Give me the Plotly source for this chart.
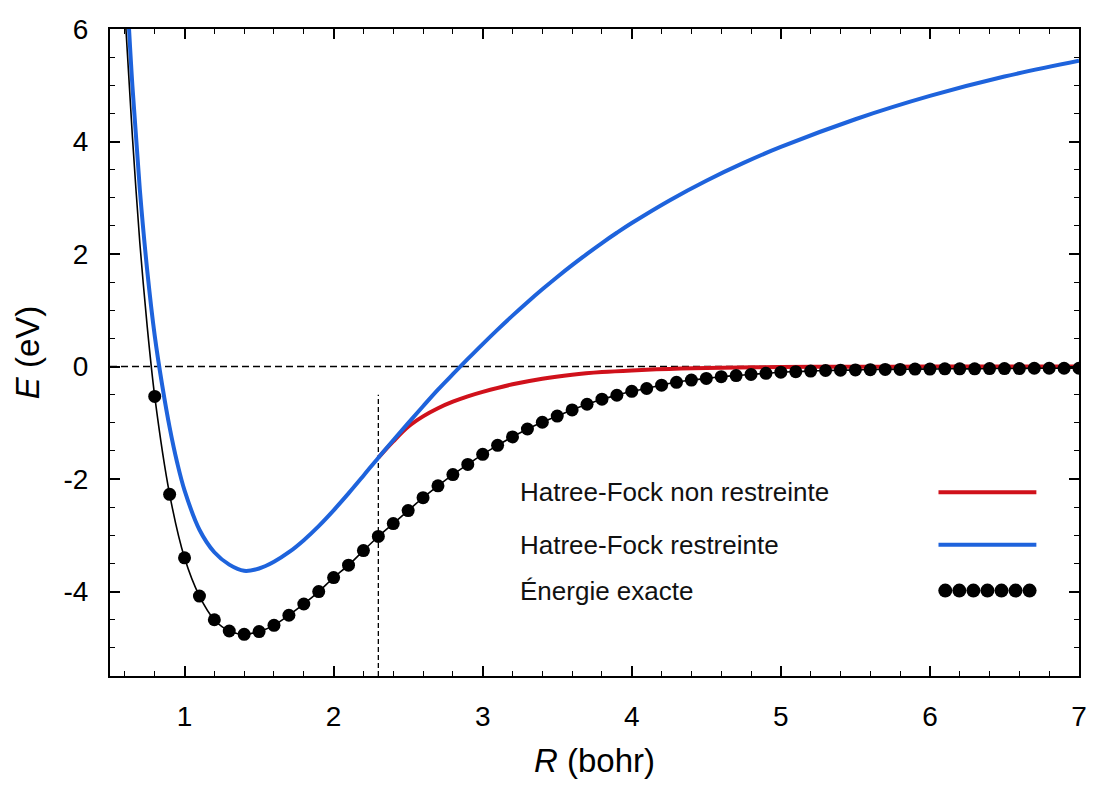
import numpy as np
import plotly.graph_objects as go

# Exact H2 energy (eV, relative to two separated atoms) on a 0.1 bohr grid
r_exact = np.round(np.arange(0.8, 7.001, 0.1), 1)
e_exact = [-0.53, -2.27, -3.40, -4.08, -4.50, -4.70, -4.76, -4.71, -4.60, -4.42,
           -4.22, -4.00, -3.75, -3.53, -3.27, -3.02, -2.79, -2.56, -2.33, -2.12,
           -1.92, -1.74, -1.56, -1.40, -1.25, -1.11, -0.99, -0.88, -0.77, -0.67,
           -0.58, -0.51, -0.44, -0.39, -0.33, -0.28, -0.24, -0.21, -0.18, -0.16,
           -0.14, -0.12, -0.10, -0.09, -0.08, -0.07, -0.065, -0.06, -0.055, -0.05,
           -0.05, -0.045, -0.045, -0.04, -0.04, -0.04, -0.035, -0.035, -0.035, -0.03,
           -0.03, -0.03, -0.03]

# Repulsive wall of the exact curve (line only, no dots)
r_wall = [0.60, 0.65, 0.70, 0.75]
e_wall = [6.3, 4.1, 2.2, 0.7]

# Restricted Hartree-Fock
r_rhf = [0.60, 0.65, 0.70, 0.75, 0.80, 0.85, 0.90, 0.95, 1.0, 1.1, 1.2, 1.3, 1.4,
         1.5, 1.6, 1.7, 1.8, 1.9, 2.0, 2.1, 2.2, 2.3, 2.4, 2.5, 2.6, 2.7, 2.8,
         2.9, 3.0, 3.1, 3.2, 3.3, 3.4, 3.5, 3.6, 3.7, 3.8, 3.9, 4.0, 4.25, 4.5,
         4.75, 5.0, 5.5, 6.0, 6.5, 7.0]
e_rhf = [7.35, 5.0, 3.15, 1.70, 0.55, -0.33, -1.08, -1.70, -2.20, -2.90, -3.30, -3.52,
         -3.63, -3.59, -3.47, -3.30, -3.085, -2.835, -2.555, -2.255, -1.94, -1.62, -1.31,
         -1.005, -0.705, -0.41, -0.135, 0.135, 0.40, 0.657, 0.905, 1.144, 1.373, 1.593,
         1.803, 2.004, 2.196, 2.378, 2.551, 2.949, 3.304, 3.62, 3.904, 4.396, 4.81,
         5.155, 5.435]

# Unrestricted Hartree-Fock (branches off RHF at R = 2.3 bohr)
r_uhf = [2.3, 2.4, 2.5, 2.6, 2.7, 2.8, 2.9, 3.0, 3.2, 3.4, 3.6, 3.8, 4.0, 4.25,
         4.5, 5.0, 5.5, 6.0, 6.5, 7.0]
e_uhf = [-1.62, -1.33, -1.07, -0.885, -0.74, -0.625, -0.53, -0.45, -0.315, -0.215,
         -0.145, -0.098, -0.068, -0.042, -0.025, -0.009, -0.003, -0.001, 0.0, 0.0]

r_instab = 2.3  # Coulson-Fischer point
legend_labels = ["Hatree-Fock non restreinte", "Hatree-Fock restreinte", "Énergie exacte"]

x_ticks = [1, 2, 3, 4, 5, 6, 7]
y_ticks = [-4, -2, 0, 2, 4, 6]
y_ticktext = ["-4", "-2", "0", "2", "4", "6"]

RED = "#d0111b"
BLUE = "#1e63dc"
FONT = "Liberation Sans, Arial, sans-serif"

x_range = [0.5, 7.0]
y_range = [-5.5, 6.0]

fig = go.Figure()

fig.add_trace(go.Scatter(x=r_uhf, y=e_uhf, mode="lines",
                         line=dict(color=RED, width=4, shape="spline", smoothing=1.0),
                         showlegend=False, hoverinfo="skip"))
fig.add_trace(go.Scatter(x=r_rhf, y=e_rhf, mode="lines",
                         line=dict(color=BLUE, width=4, shape="spline", smoothing=1.0),
                         showlegend=False, hoverinfo="skip"))
fig.add_trace(go.Scatter(x=list(r_wall) + list(r_exact), y=list(e_wall) + list(e_exact),
                         mode="lines", line=dict(color="black", width=1.6, shape="spline", smoothing=0.8),
                         showlegend=False, hoverinfo="skip"))
fig.add_trace(go.Scatter(x=r_exact, y=e_exact, mode="markers",
                         marker=dict(color="black", size=13),
                         showlegend=False, cliponaxis=True))

# Reference lines
fig.add_shape(type="line", xref="x", yref="y", x0=x_range[0], x1=x_range[1], y0=0, y1=0,
              line=dict(color="black", width=1.5, dash="7px,4px"), layer="below")
fig.add_shape(type="line", xref="x", yref="y", x0=r_instab, x1=r_instab, y0=y_range[0], y1=-0.5,
              line=dict(color="black", width=1.3, dash="5px,3px"), layer="below")

# Hand-built key: labels on the left, samples on the right
row_y = [0.284, 0.203, 0.132]
for lbl, yy in zip(legend_labels, row_y):
    fig.add_annotation(xref="paper", yref="paper", x=0.421, y=yy, text=lbl,
                       showarrow=False, xanchor="left", yanchor="middle",
                       font=dict(family=FONT, size=26, color="#111111"))
for col, yy in zip([RED, BLUE], row_y[:2]):
    fig.add_shape(type="line", xref="paper", yref="paper", x0=0.855, x1=0.956, y0=yy, y1=yy,
                  line=dict(color=col, width=4))
key_x = np.linspace(x_range[0] + 6.5 * 0.862, x_range[0] + 6.5 * 0.949, 7)
key_y = y_range[0] + 11.5 * row_y[2]
fig.add_trace(go.Scatter(x=key_x, y=[key_y] * 7, mode="markers",
                         marker=dict(color="black", size=14), showlegend=False, hoverinfo="skip"))

axis_common = dict(
    showline=True, linecolor="black", linewidth=2, mirror="allticks",
    ticks="inside", ticklen=10, tickwidth=1.5, tickcolor="black",
    showgrid=False, zeroline=False, tickmode="array",
    tickfont=dict(family=FONT, size=28, color="black"),
)

fig.update_xaxes(range=x_range, tickvals=x_ticks, ticktext=[str(t) for t in x_ticks],
                 minor=dict(dtick=0.2, tick0=0, ticks="inside", ticklen=5, tickwidth=1.2, tickcolor="black"),
                 title=dict(text="<i>R</i> (bohr)", font=dict(family=FONT, size=33, color="black"), standoff=18),
                 ticklabelstandoff=14, **axis_common)
fig.update_yaxes(range=y_range, tickvals=y_ticks, ticktext=y_ticktext,
                 minor=dict(dtick=0.5, tick0=0, ticks="inside", ticklen=5, tickwidth=1.2, tickcolor="black"),
                 title=dict(text="<i>E</i> (eV)", font=dict(family=FONT, size=33, color="black"), standoff=14),
                 ticklabelstandoff=14, **axis_common)

fig.update_layout(
    width=1099, height=785,
    margin=dict(l=110, r=16, t=29, b=108),
    plot_bgcolor="white", paper_bgcolor="white",
    font=dict(family=FONT),
    showlegend=False,
)

fig.write_html("out.html")
